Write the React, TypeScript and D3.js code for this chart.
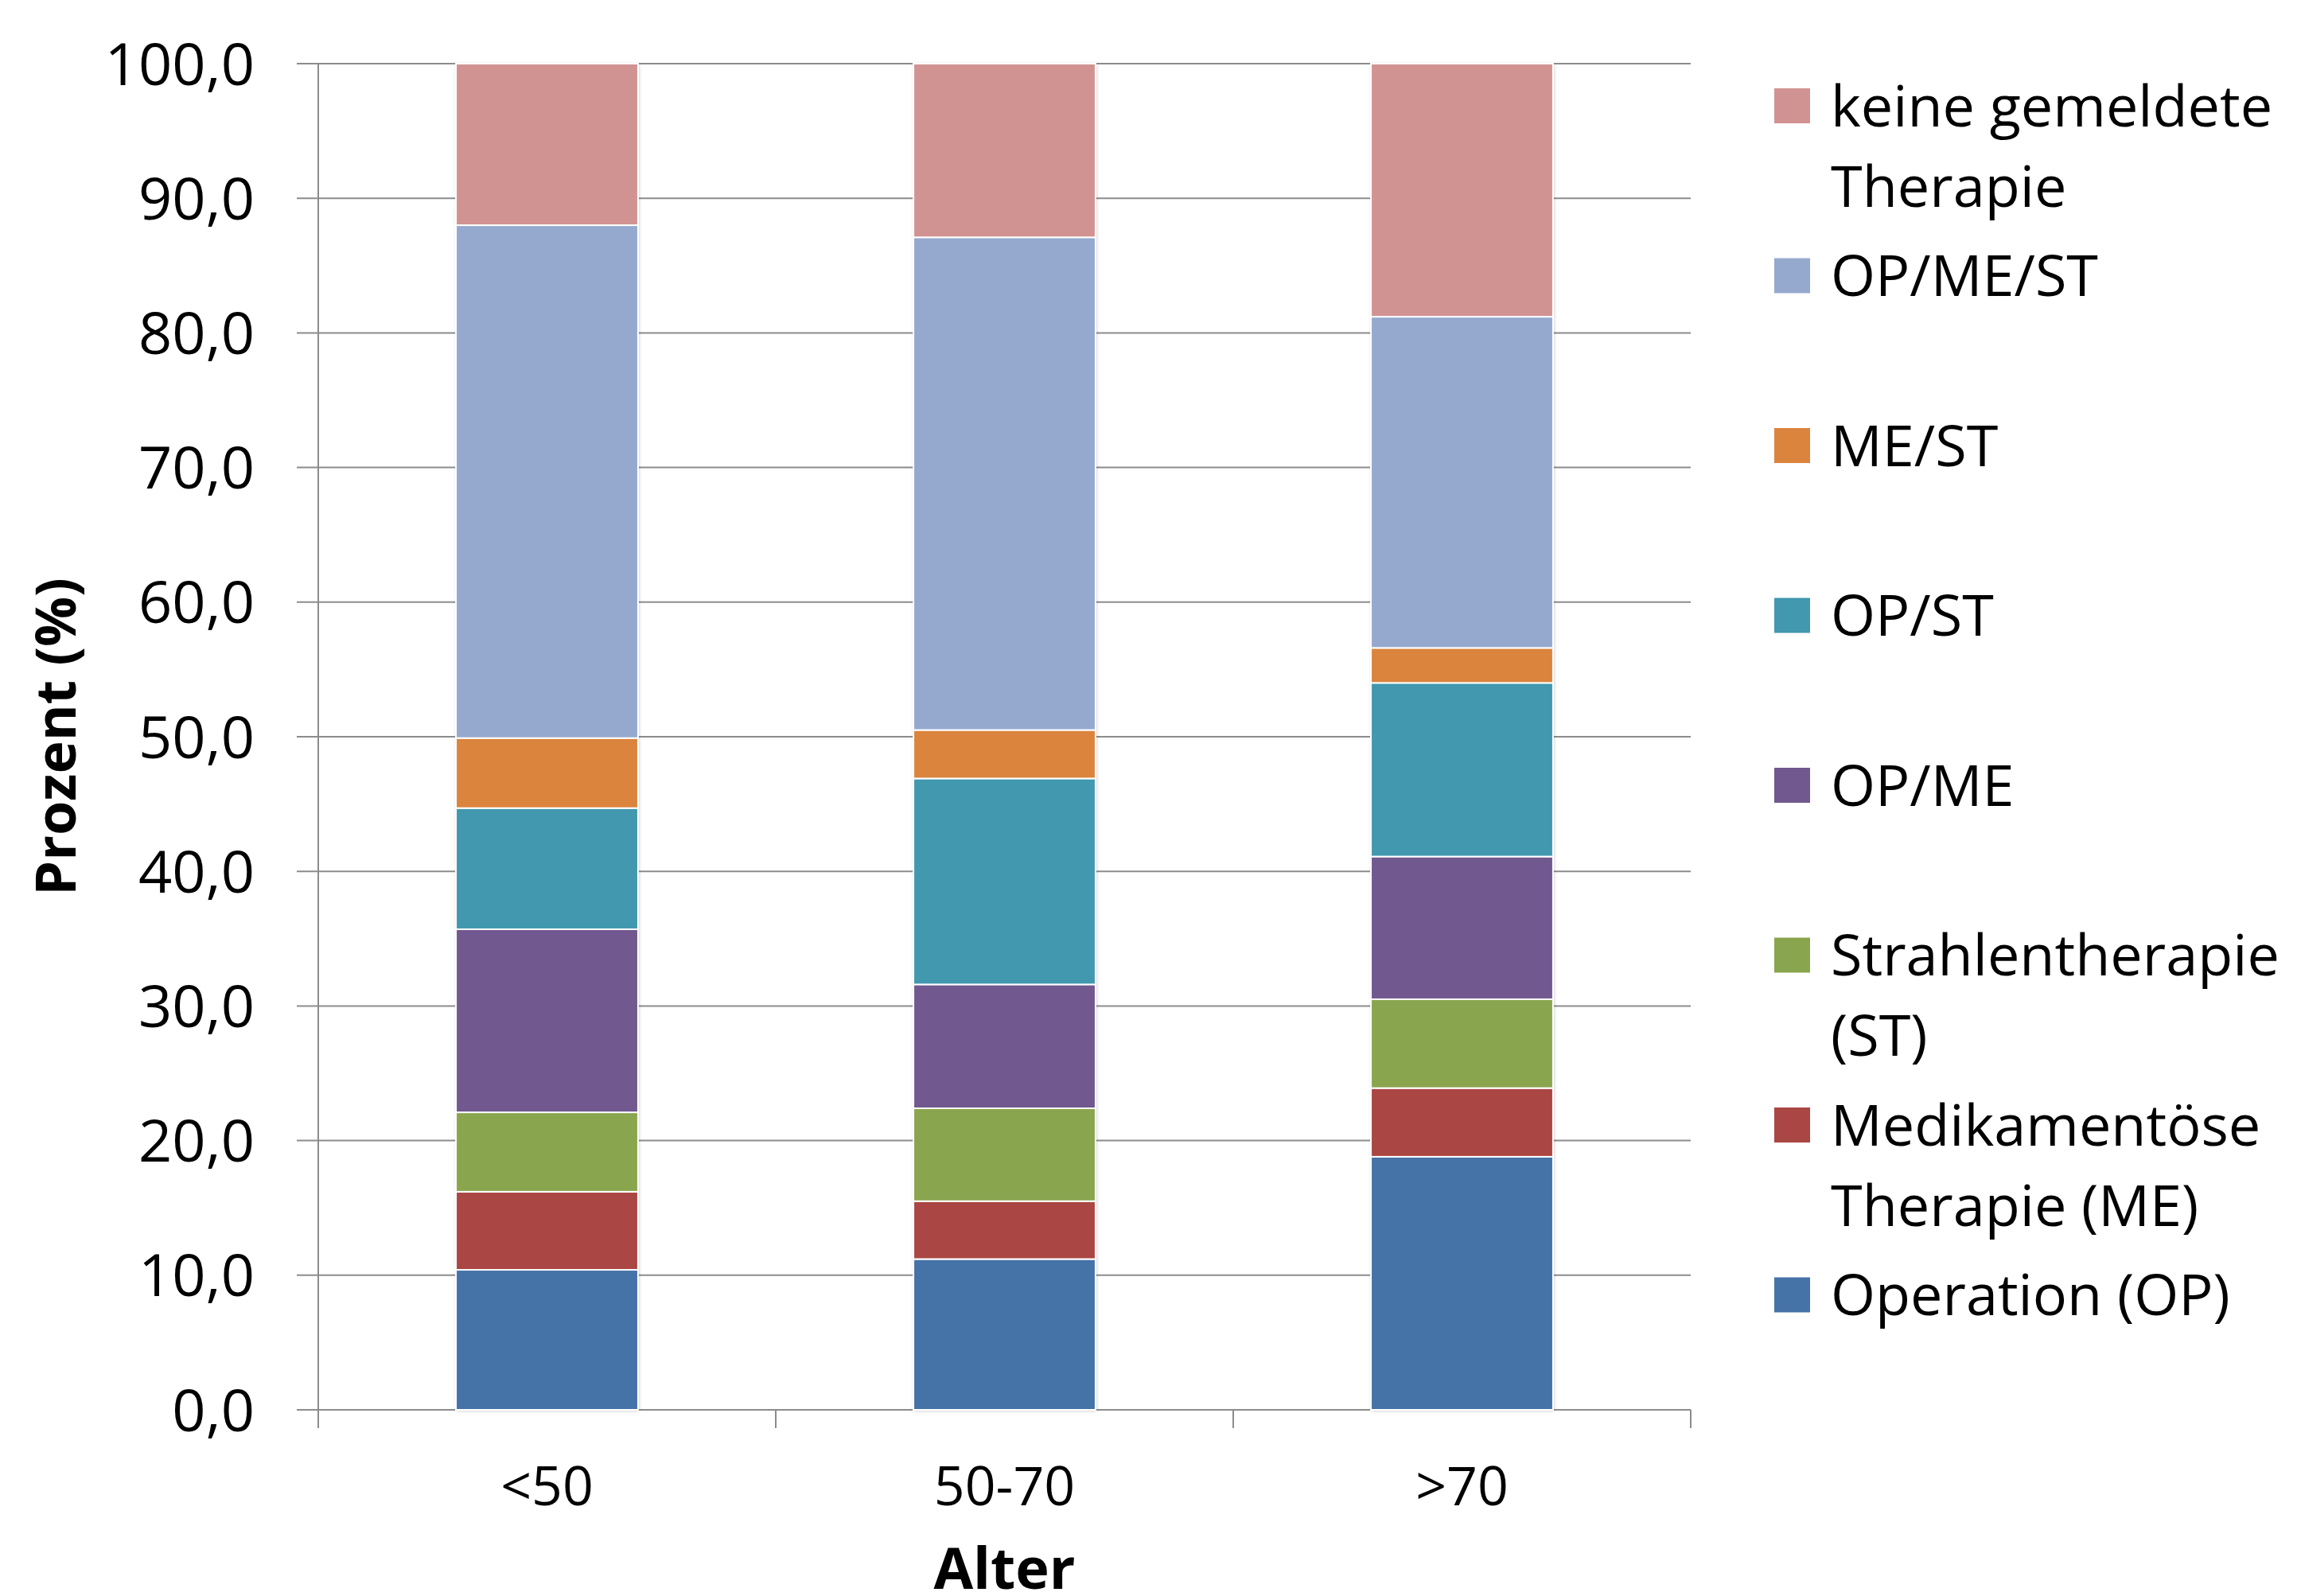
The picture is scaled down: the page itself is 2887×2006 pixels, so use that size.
import React from "react";
import * as d3 from "d3";

const categories = ["<50", "50-70", ">70"];
const seriesNames = [
  "Operation (OP)",
  "Medikamentöse Therapie (ME)",
  "Strahlentherapie (ST)",
  "OP/ME",
  "OP/ST",
  "ME/ST",
  "OP/ME/ST",
  "keine gemeldete Therapie",
];
const legendLines = [
  ["Operation (OP)"],
  ["Medikamentöse", "Therapie (ME)"],
  ["Strahlentherapie", "(ST)"],
  ["OP/ME"],
  ["OP/ST"],
  ["ME/ST"],
  ["OP/ME/ST"],
  ["keine gemeldete", "Therapie"],
];
const colors = ["#4572A7", "#AA4643", "#89A54E", "#71588F", "#4198AF", "#DB843D", "#95A9CF", "#D19392"];

const opValues = [10.4, 11.2, 18.8];
const meValues = [5.8, 4.3, 5.1];
const stValues = [5.9, 6.9, 6.6];
const opMeValues = [13.6, 9.2, 10.6];
const opStValues = [9.0, 15.3, 12.9];
const meStValues = [5.2, 3.6, 2.6];
const opMeStValues = [38.1, 36.6, 24.6];
const keineValues = [12.0, 12.9, 18.8];

const yTicks = [0, 10, 20, 30, 40, 50, 60, 70, 80, 90, 100];

const seriesValues = [opValues, meValues, stValues, opMeValues, opStValues, meStValues, opMeStValues, keineValues];

const FONT = "'Open Sans', 'Noto Sans', sans-serif";

export default function App() {
  const W = 2887;
  const H = 2006;
  const left = 400;
  const right = 2125;
  const top = 80;
  const bottom = 1772;

  const x = d3.scaleBand<string>().domain(categories).range([left, right]).padding(0);
  const y = d3.scaleLinear().domain([0, 100]).range([bottom, top]);
  const barW = x.bandwidth() * 0.398;

  const rows = categories.map((c, i) => {
    const r: any = { cat: c };
    seriesNames.forEach((s, j) => (r[s] = seriesValues[j][i]));
    return r;
  });
  const stack = d3.stack<any>().keys(seriesNames)(rows);
  const fmt = (v: number) => d3.format(".1f")(v).replace(".", ",");

  const legendX = 2230;
  const legendY0 = 133;
  const legendStep = 213.5;
  const lineH = 101;
  const legendOrder = seriesNames.map((_, i) => seriesNames.length - 1 - i);

  return (
    <svg width={W} height={H} style={{ position: "absolute", left: 0, top: 0, background: "#fff" }} fontFamily={FONT}>
      <defs>
        <filter id="sh" x="-10%" y="-10%" width="120%" height="120%">
          <feDropShadow dx="1" dy="1" stdDeviation="2" floodColor="#000" floodOpacity="0.25" />
        </filter>
      </defs>
      <rect x={0} y={0} width={W} height={H} fill="#fff" />
      {yTicks.map((t) => (
        <line key={t} x1={left - 27} x2={right} y1={y(t)} y2={y(t)} stroke="#8c8c8c" strokeWidth={2} />
      ))}
      <line x1={left} x2={left} y1={top} y2={bottom + 23} stroke="#8c8c8c" strokeWidth={2} />
      {[left, ...categories.map((c) => (x(c) as number) + x.bandwidth())].map((px, i) => (
        <line key={i} x1={px} x2={px} y1={bottom} y2={bottom + 23} stroke="#8c8c8c" strokeWidth={2} />
      ))}
      {categories.map((c, i) => {
        const cx = (x(c) as number) + x.bandwidth() / 2;
        return (
          <g key={c}>
            <rect x={cx - barW / 2} y={y(100)} width={barW} height={y(0) - y(100)} fill="#fff" filter="url(#sh)" />
            {stack.map((s, j) => (
              <rect
                key={j}
                x={cx - barW / 2}
                y={y(s[i][1])}
                width={barW}
                height={y(s[i][0]) - y(s[i][1])}
                fill={colors[j]}
                stroke="#fff"
                strokeWidth={2}
              />
            ))}
          </g>
        );
      })}
      {yTicks.map((t) => (
        <text key={t} x={320} y={y(t)} dy="0.36em" textAnchor="end" fontSize={74} fill="#000">
          {fmt(t)}
        </text>
      ))}
      {categories.map((c) => (
        <text key={c} x={(x(c) as number) + x.bandwidth() / 2} y={1892} textAnchor="middle" fontSize={68} fill="#000">
          {c}
        </text>
      ))}
      <text x={(left + right) / 2} y={1997} textAnchor="middle" fontSize={72} fontWeight="bold" fill="#000">
        Alter
      </text>
      <text
        transform={`translate(95, ${(top + bottom) / 2}) rotate(-90)`}
        textAnchor="middle"
        fontSize={70}
        fontWeight="bold"
        fill="#000"
      >
        Prozent (%)
      </text>
      {legendOrder.map((si, k) => {
        const cy = legendY0 + k * legendStep;
        return (
          <g key={si}>
            <rect x={legendX} y={cy - 22} width={45} height={44} fill={colors[si]} />
            {legendLines[si].map((ln, li) => (
              <text key={li} x={2301} y={cy + li * lineH} dy="0.36em" fontSize={72} fill="#000">
                {ln}
              </text>
            ))}
          </g>
        );
      })}
    </svg>
  );
}
